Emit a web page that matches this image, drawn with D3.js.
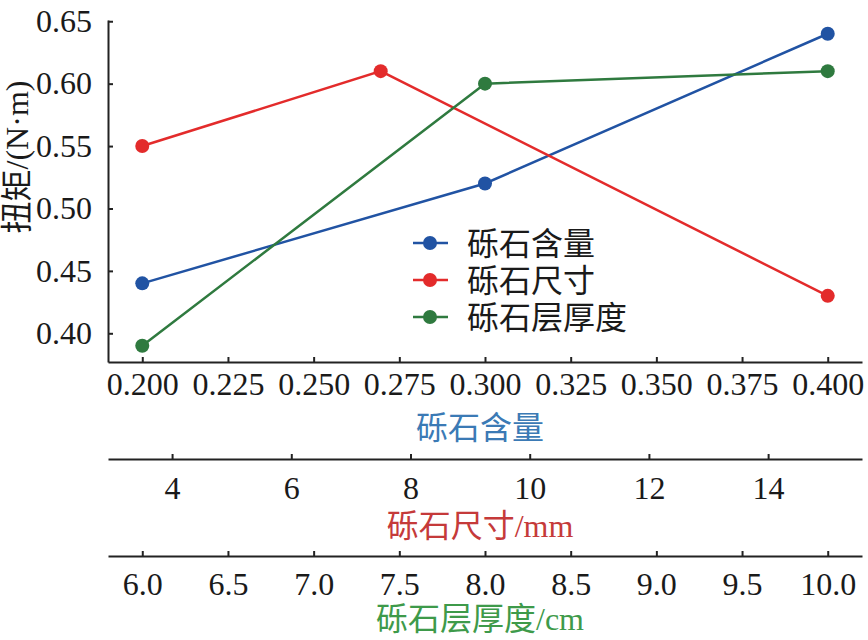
<!DOCTYPE html>
<html lang="zh">
<head>
  <meta charset="UTF-8">
  <title>扭矩</title>
  <style>
    body { margin: 0; background: #fff; }
    svg text { font-family: "Liberation Serif", "Noto Sans CJK SC", serif; fill: #1a1a1a; }
    .axis path, .axis line { stroke: #222; stroke-width: 2; }
  </style>
</head>
<body>
  <div id="chart"></div>

  <script src="https://d3js.org/d3.v7.min.js"></script>
  <script>
    // series data
    const contentX = [0.200, 0.300, 0.400];
    const contentY = [0.44, 0.52, 0.64];
    const sizeX = [3.5, 7.5, 15.0];
    const sizeY = [0.55, 0.61, 0.43];
    const thickX = [6.0, 8.0, 10.0];
    const thickY = [0.39, 0.60, 0.61];

    // tick labels
    const yTicks = [0.40, 0.45, 0.50, 0.55, 0.60, 0.65];
    const contentTicks = [0.200, 0.225, 0.250, 0.275, 0.300, 0.325, 0.350, 0.375, 0.400];
    const sizeTicks = [4, 6, 8, 10, 12, 14];
    const thickTicks = [6.0, 6.5, 7.0, 7.5, 8.0, 8.5, 9.0, 9.5, 10.0];

    const names = ["砾石含量", "砾石尺寸", "砾石层厚度"];
    const colors = ["#2153a3", "#e32b2b", "#2f7a3f"];
    const titleColors = ["#3b7ab5", "#c53a3a", "#3e9a4a"];

    const W = 868, H = 640;
    const plot = { left: 108, right: 862, top: 20, bottom: 362 };

    const svg = d3.select("#chart").append("svg")
      .attr("width", W).attr("height", H);

    const y = d3.scaleLinear().domain([0.377, 0.651]).range([plot.bottom, plot.top]);
    const xContent = d3.scaleLinear().domain([0.19, 0.41]).range([plot.left, plot.right]);
    const xSize = d3.scaleLinear().domain([2.925, 15.575]).range([plot.left, plot.right]);
    const xThick = d3.scaleLinear().domain([5.8, 10.2]).range([plot.left, plot.right]);

    // y axis
    svg.append("g")
      .attr("class", "axis")
      .attr("transform", `translate(${plot.left},0)`)
      .call(d3.axisLeft(y).tickValues(yTicks).tickFormat(d3.format(".2f"))
        .tickSizeInner(-5).tickSizeOuter(0).tickPadding(16))
      .call(g => g.selectAll("text").style("font-size", "32px"));

    svg.append("text")
      .attr("transform", "translate(28,157) rotate(-90)")
      .attr("text-anchor", "middle")
      .style("font-size", "32px")
      .text("扭矩/(N·m)");

    // three stacked x axes
    const xAxes = [
      { scale: xContent, ticks: contentTicks, fmt: d3.format(".3f"), yPos: 362, pad: 10, title: "砾石含量", ty: 439 },
      { scale: xSize, ticks: sizeTicks, fmt: d3.format("d"), yPos: 459, pad: 17, title: "砾石尺寸/mm", ty: 537 },
      { scale: xThick, ticks: thickTicks, fmt: d3.format(".1f"), yPos: 556, pad: 16, title: "砾石层厚度/cm", ty: 630 }
    ];

    xAxes.forEach((a, i) => {
      svg.append("g")
        .attr("class", "axis")
        .attr("transform", `translate(0,${a.yPos})`)
        .call(d3.axisBottom(a.scale).tickValues(a.ticks).tickFormat(a.fmt)
          .tickSizeInner(-5).tickSizeOuter(0).tickPadding(a.pad))
        .call(g => g.selectAll("text").style("font-size", "32px"));

      svg.append("text")
        .attr("x", 480).attr("y", a.ty)
        .attr("text-anchor", "middle")
        .style("font-size", "32px")
        .style("fill", titleColors[i])
        .text(a.title);
    });

    // lines and markers
    const series = [
      { xs: contentX, ys: contentY, scale: xContent },
      { xs: sizeX, ys: sizeY, scale: xSize },
      { xs: thickX, ys: thickY, scale: xThick }
    ];

    series.forEach((s, i) => {
      const pts = s.xs.map((v, j) => [s.scale(v), y(s.ys[j])]);
      svg.append("path")
        .attr("d", d3.line()(pts))
        .attr("fill", "none")
        .attr("stroke", colors[i])
        .attr("stroke-width", 2.5);
      svg.selectAll(null)
        .data(pts)
        .enter().append("circle")
        .attr("cx", d => d[0])
        .attr("cy", d => d[1])
        .attr("r", 7)
        .attr("fill", colors[i]);
    });

    // legend
    const legend = svg.append("g").attr("transform", "translate(413,243)");
    names.forEach((n, i) => {
      const g = legend.append("g").attr("transform", `translate(0,${i * 37})`);
      g.append("line").attr("x1", 0).attr("x2", 35)
        .attr("stroke", colors[i]).attr("stroke-width", 2.5);
      g.append("circle").attr("cx", 17).attr("r", 7).attr("fill", colors[i]);
      g.append("text").attr("x", 54).attr("y", 12)
        .style("font-size", "32px")
        .text(n);
    });
  </script>
</body>
</html>
